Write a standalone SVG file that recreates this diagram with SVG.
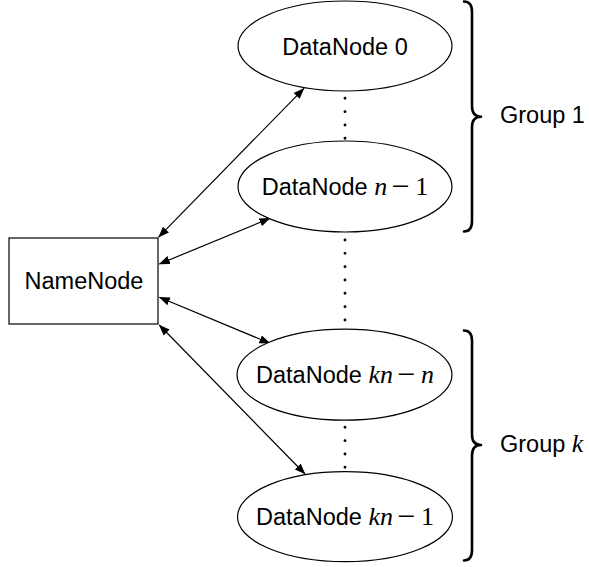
<svg xmlns="http://www.w3.org/2000/svg" width="589" height="567" viewBox="0 0 589 567">
  <defs>
    <style>
      .shape { fill: #fff; stroke: #000; stroke-width: 1.2; }
      .t { font-family: "Liberation Sans", Arial, sans-serif; font-size: 23.5px; fill: #000; }
      .mi { font-family: "Liberation Serif", "Times New Roman", serif; font-style: italic; font-size: 26px; }
      .mr { font-family: "Liberation Serif", "Times New Roman", serif; font-size: 26px; }
      .mm { font-family: "Liberation Serif", "Times New Roman", serif; font-size: 32px; }
      .conn { stroke: #000; stroke-width: 1.2; fill: none; marker-start: url(#ah); marker-end: url(#ah); }
      .dots { stroke: #000; stroke-width: 2.9; stroke-linecap: round; stroke-dasharray: 0 13.33; fill: none; }
      .brace { stroke: #000; stroke-width: 2.6; fill: none; stroke-linecap: round; stroke-linejoin: round; }
    </style>
    <marker id="ah" markerUnits="userSpaceOnUse" markerWidth="12" markerHeight="10" refX="10.5" refY="4.5" orient="auto-start-reverse" viewBox="0 0 12 9">
      <path d="M0,0.3 L11,4.5 L0,8.7 Z" fill="#000"/>
    </marker>
  </defs>

  <g id="connectors">
    <line class="conn" x1="158.6" y1="237.2" x2="304" y2="88.3"/>
    <line class="conn" x1="159.3" y1="264" x2="270" y2="218.3"/>
    <line class="conn" x1="159.3" y1="297.3" x2="270" y2="343.3"/>
    <line class="conn" x1="159.3" y1="325" x2="305" y2="474"/>
    <line class="dots" x1="345" y1="98.3" x2="345" y2="140"/>
    <line class="dots" x1="345" y1="240" x2="345" y2="322"/>
    <line class="dots" x1="345" y1="427.3" x2="345" y2="469"/>
  </g>

  <g id="namenode">
    <rect class="shape" x="9" y="238" width="149" height="86"/>
    <text class="t" x="84" y="289" text-anchor="middle">NameNode</text>
  </g>

  <g id="datanode0">
    <ellipse class="shape" cx="345" cy="46" rx="107" ry="45"/>
    <text class="t" x="345" y="54.5" text-anchor="middle">DataNode 0</text>
  </g>

  <g id="datanode-n-1">
    <ellipse class="shape" cx="345" cy="186.5" rx="107" ry="45.5"/>
    <text class="t" x="345" y="195" text-anchor="middle">DataNode <tspan class="mi">n</tspan><tspan class="mm" dx="4" dy="1.5">−</tspan><tspan class="mr" dx="6" dy="-1.5">1</tspan></text>
  </g>

  <g id="datanode-kn-n">
    <ellipse class="shape" cx="344.5" cy="374.7" rx="107.5" ry="45.5"/>
    <text class="t" x="345" y="383" text-anchor="middle">DataNode <tspan class="mi">kn</tspan><tspan class="mm" dx="4" dy="1.5">−</tspan><tspan class="mi" dx="6" dy="-1.5">n</tspan></text>
  </g>

  <g id="datanode-kn-1">
    <ellipse class="shape" cx="345" cy="516.7" rx="107.5" ry="45"/>
    <text class="t" x="345" y="525" text-anchor="middle">DataNode <tspan class="mi">kn</tspan><tspan class="mm" dx="4" dy="1.5">−</tspan><tspan class="mr" dx="6" dy="-1.5">1</tspan></text>
  </g>

  <g id="group1">
    <path class="brace" d="M464,1.5 Q472,1.5 472,12 L472,106 Q472,116.7 481,116.7 Q472,116.7 472,127 L472,221 Q472,231.5 464,231.5"/>
    <text class="t" x="500" y="123.3">Group 1</text>
  </g>

  <g id="groupk">
    <path class="brace" d="M464,330.5 Q472,330.5 472,341 L472,434.5 Q472,445 481,445 Q472,445 472,455.5 L472,550 Q472,560.5 464,560.5"/>
    <text class="t" x="500" y="451.7">Group <tspan class="mi">k</tspan></text>
  </g>
</svg>
